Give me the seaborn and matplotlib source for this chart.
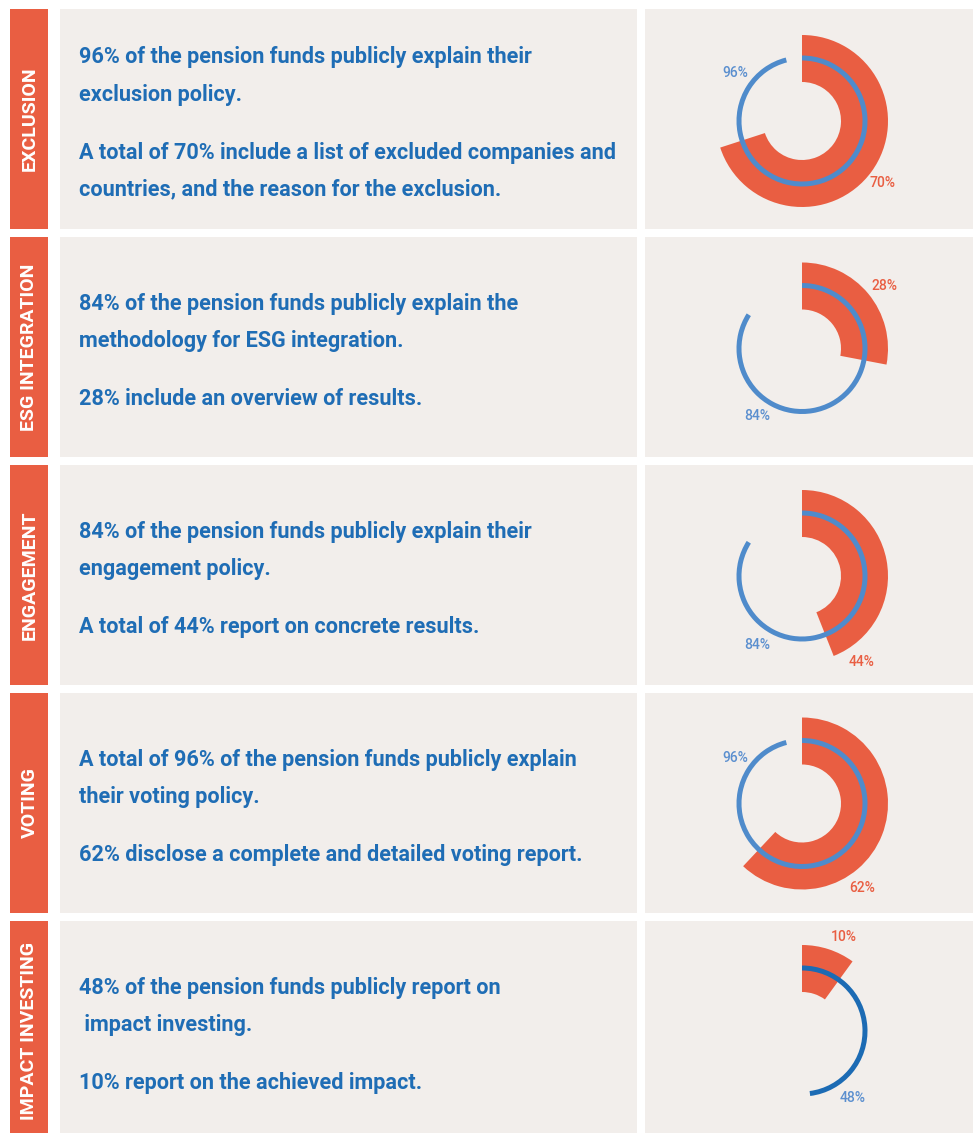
import numpy as np
import matplotlib
matplotlib.use("Agg")
import matplotlib.pyplot as plt
from matplotlib.patches import Rectangle
import seaborn as sns

# ======================
# Data
# ======================
categories = ["EXCLUSION", "ESG INTEGRATION", "ENGAGEMENT", "VOTING", "IMPACT INVESTING"]
policy_pct = [96, 84, 84, 96, 48]      # blue thin ring
results_pct = [70, 28, 44, 62, 10]     # red thick wedge
descriptions = [
    [["96% of the pension funds publicly explain their", "exclusion policy."],
     ["A total of 70% include a list of excluded companies and",
      "countries, and the reason for the exclusion."]],
    [["84% of the pension funds publicly explain the", "methodology for ESG integration."],
     ["28% include an overview of results."]],
    [["84% of the pension funds publicly explain their", "engagement policy."],
     ["A total of 44% report on concrete results."]],
    [["A total of 96% of the pension funds publicly explain", "their voting policy."],
     ["62% disclose a complete and detailed voting report."]],
    [["48% of the pension funds publicly report on", " impact investing."],
     ["10% report on the achieved impact."]],
]

# ======================
# Layout / style
# ======================
W, H = 975, 1133
RED = "#e95e42"
BLUE_RING = ["#4f8bcb", "#4f8bcb", "#4f8bcb", "#4f8bcb", "#1c6bb4"]
BLUE_TEXT = "#1f6db5"
BLUE_LABEL = "#5b8fcf"
PANEL = "#f2eeeb"

row_top0, row_step, row_h = 9, 228, 220
ring_cy0, ring_cx = 121, 802
# label offsets (px) from ring centre: blue label, red label
blue_lbl_off = [(-67, -48), (-45, 67), (-45, 69), (-67, -45), (51, 67)]
red_lbl_off = [(81, 62), (83, -62), (60, 86), (60, 84), (42, -94)]

sns.set_theme(style="white")
plt.rcParams["font.family"] = ["Roboto", "DejaVu Sans"]

fig = plt.figure(figsize=(W / 100, H / 100), dpi=100)
bg = fig.add_axes([0, 0, 1, 1])
bg.set_xlim(0, W)
bg.set_ylim(H, 0)
bg.axis("off")

for i, cat in enumerate(categories):
    top = row_top0 + row_step * i
    bg.add_patch(Rectangle((10, top), 38, row_h, color=RED, lw=0))
    bg.add_patch(Rectangle((60, top), 577, row_h, color=PANEL, lw=0))
    bg.add_patch(Rectangle((645, top), 328, row_h, color=PANEL, lw=0))
    bg.text(29.5, top + row_h / 2, cat, rotation=90, ha="center", va="center",
            color="white", fontsize=14, fontweight="bold")

    # text block, vertically centred
    paras = descriptions[i]
    ys = []
    y = 0
    for p, para in enumerate(paras):
        if p > 0:
            y += 58
        for k, line in enumerate(para):
            if k > 0:
                y += 37
            ys.append((y, line))
    shift = top + 114.5 - y / 2
    for yy, line in ys:
        bg.text(79, yy + shift, line, ha="left", va="center", color=BLUE_TEXT,
                fontsize=15.6, fontweight="bold")

    # radial chart
    cy = ring_cy0 + 227.5 * i
    size = 240
    ax = fig.add_axes([(ring_cx - size / 2) / W, (H - cy - size / 2) / H, size / W, size / H],
                      projection="polar")
    ax.set_theta_zero_location("N")
    ax.set_theta_direction(-1)
    ax.set_ylim(0, size / 2)
    ax.axis("off")
    ax.patch.set_alpha(0)

    ax.bar(0, 86 - 39, width=2 * np.pi * results_pct[i] / 100, bottom=39,
           align="edge", color=RED, lw=0)
    ax.bar(0, 5, width=2 * np.pi * policy_pct[i] / 100, bottom=60.5,
           align="edge", color=BLUE_RING[i], lw=0)

    for (dx, dy), txt, col in [(blue_lbl_off[i], f"{policy_pct[i]}%", BLUE_LABEL),
                               (red_lbl_off[i], f"{results_pct[i]}%", RED)]:
        th = np.arctan2(dx, -dy)
        r = np.hypot(dx, dy)
        ax.text(th, r, txt, ha="center", va="center", color=col,
                fontsize=10, fontweight="medium", clip_on=False)

fig.savefig("out.png", dpi=100)
